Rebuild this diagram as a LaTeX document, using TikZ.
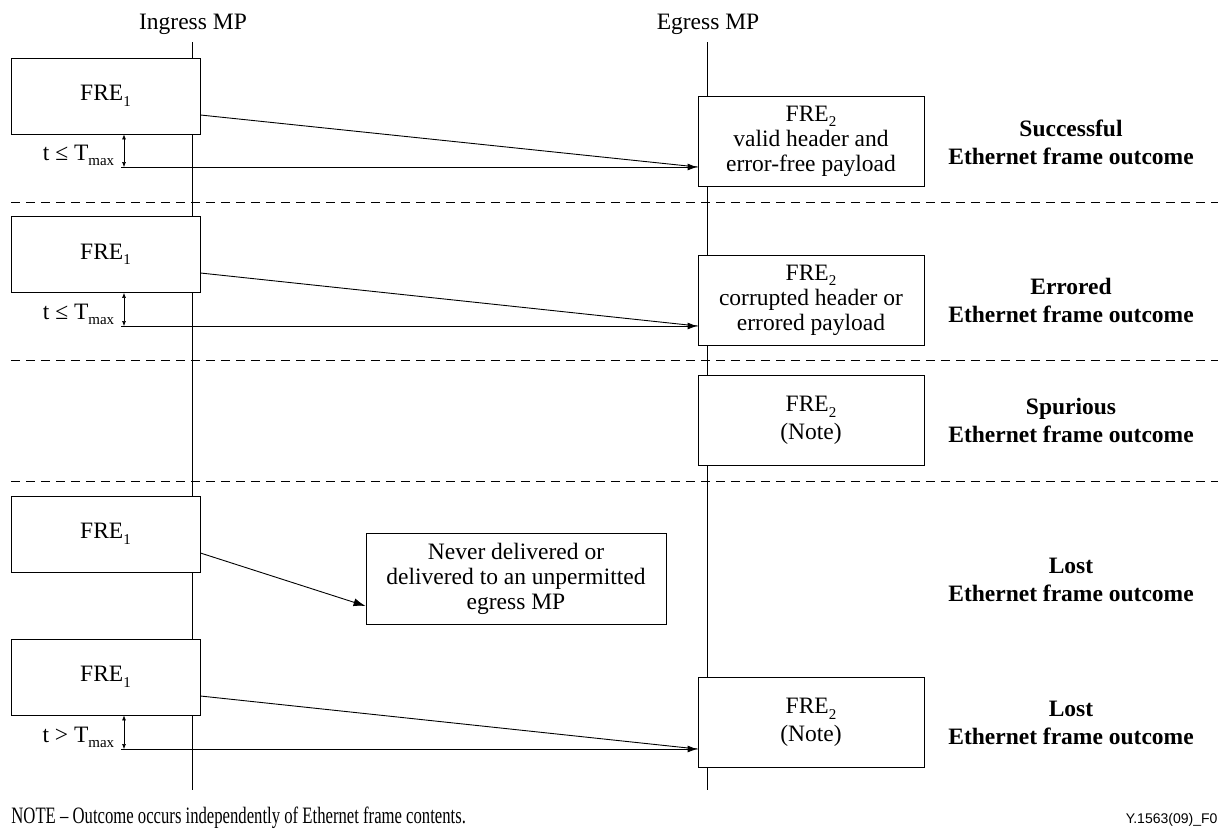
\documentclass[tikz,border=0pt]{standalone}
\usepackage{fontspec}
\setmainfont{Liberation Serif}
\newfontfamily\codefont{Liberation Sans}
\usetikzlibrary{arrows.meta,positioning}
\newcommand{\lowidx}[1]{\raisebox{-5.5pt}{\fontsize{15}{15}\selectfont #1}}

\begin{document}
\begin{tikzpicture}[x=1pt,y=-1pt,line width=0.9pt,>={Latex[length=10pt,width=7pt]},
    font=\fontsize{23.5}{25}\selectfont,
    framebox/.style={draw,fill=white,inner sep=0pt,align=center},
    srcbox/.style={framebox,minimum width=189pt,minimum height=76pt},
    dstbox/.style={framebox,minimum width=226pt,minimum height=90pt},
    outcome/.style={font=\fontsize{23.5}{28}\selectfont\bfseries,align=center},
    sep/.style={dash pattern=on 9pt off 6pt},
    span/.style={{Latex[length=5pt,width=4pt]}-{Latex[length=5pt,width=4pt]}}]
    \clip (0,0) rectangle (1218,828);

    % measurement points
    \node (ingress) at (193,24) {Ingress MP};
    \node (egress) at (708,24) {Egress MP};
    \coordinate (ingTop) at (192,42);
    \coordinate (ingEnd) at (192,790);
    \coordinate (egTop) at (707,42);
    \coordinate (egEnd) at (707,790);
    \draw (ingTop) -- (ingEnd);
    \draw (egTop) -- (egEnd);

    \foreach \y in {202,360,481}
      \draw[sep] (11,\y) -- (1218,\y);

    % successful
    \node[srcbox] (src1) at (105.5,96) {FRE\lowidx{1}};
    \node[dstbox] (dst1) at (811,141) {FRE\lowidx{2}\\valid header and\\error-free payload};
    \node[outcome] (res1) at (1071,142) {Successful\\Ethernet frame outcome};
    \coordinate (t1) at (124,167);
    \draw ([yshift=-19pt]src1.east) -- (t1 -| dst1.west);
    \draw[->] ([xshift=-3pt]t1) -- (t1 -| dst1.west);
    \draw[span,line width=0.6pt] (t1 |- src1.south) -- (t1);
    \node[anchor=base east] (lim1) at (118,160) {t ≤ T\lowidx{max}};

    % errored
    \node[srcbox] (src2) at (105.5,254.5) {FRE\lowidx{1}};
    \node[dstbox] (dst2) at (811,300) {FRE\lowidx{2}\\corrupted header or\\errored payload};
    \node[outcome] (res2) at (1071,300) {Errored\\Ethernet frame outcome};
    \coordinate (t2) at (124,326);
    \draw ([yshift=-18.5pt]src2.east) -- (t2 -| dst2.west);
    \draw[->] ([xshift=-3pt]t2) -- (t2 -| dst2.west);
    \draw[span,line width=0.6pt] (t2 |- src2.south) -- (t2);
    \node[anchor=base east] (lim2) at (118,319) {t ≤ T\lowidx{max}};

    % spurious
    \node[dstbox,font=\fontsize{23.5}{28}\selectfont] (dst3) at (811,420.5) {FRE\lowidx{2}\\(Note)};
    \node[outcome] (res3) at (1071,420) {Spurious\\Ethernet frame outcome};

    % lost, never delivered
    \node[srcbox] (src4) at (105.5,534) {FRE\lowidx{1}};
    \node[framebox,minimum width=300pt,minimum height=91pt] (lost) at (516,578.5)
      {Never delivered or\\delivered to an unpermitted\\egress MP};
    \node[outcome] (res4) at (1071,580) {Lost\\Ethernet frame outcome};
    \draw[->,>={Latex[length=12pt,width=8pt]}] ([yshift=-19pt]src4.east) -- ([yshift=-27.5pt]lost.west);

    % lost, too late
    \node[srcbox] (src5) at (105.5,677) {FRE\lowidx{1}};
    \node[dstbox,font=\fontsize{23.5}{28}\selectfont] (dst5) at (811,722.5) {FRE\lowidx{2}\\(Note)};
    \node[outcome] (res5) at (1071,723) {Lost\\Ethernet frame outcome};
    \coordinate (t5) at (124,749);
    \draw ([yshift=-19pt]src5.east) -- (t5 -| dst5.west);
    \draw[->] ([xshift=-3pt]t5) -- (t5 -| dst5.west);
    \draw[span,line width=0.6pt] (t5 |- src5.south) -- (t5);
    \node[anchor=base east] (lim5) at (118,742) {t > T\lowidx{max}};

    \node[anchor=base west,inner xsep=0pt] (note) at (11,823)
      {\scalebox{0.71}[1]{NOTE -- Outcome occurs independently of Ethernet frame contents.}};
    \node[anchor=base west,font=\codefont\fontsize{14}{14}\selectfont] (figid) at (1122,823) {Y.1563(09)\_F0};
  \end{tikzpicture}
\end{document}
